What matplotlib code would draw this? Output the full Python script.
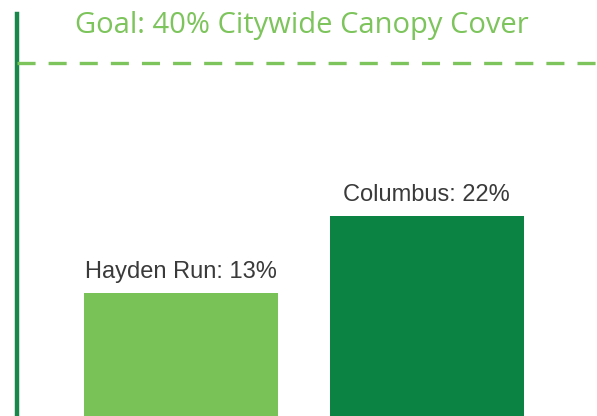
import matplotlib
matplotlib.use("Agg")
import matplotlib.pyplot as plt

# data
areas = ["Hayden Run", "Columbus"]
canopy = [13, 22]
goal = 40
goal_label = "Goal: 40% Citywide Canopy Cover"
bar_colors = ["#79c257", "#0b8443"]

light_green = "#7cc45b"
dark_green = "#17874a"

fig = plt.figure(figsize=(5.97, 4.16), dpi=100)
ax = fig.add_axes([0, 0, 1, 1])

# the original is not drawn to a strict scale, so pick limits that fit it best
ymin, ymax = -1.38, 47.33
ax.set_ylim(ymin, ymax)
ax.set_xlim(-0.737, 1.694)

x = list(range(len(areas)))
heights = [v - ymin for v in canopy]
ax.bar(x, heights, bottom=ymin, width=0.79, color=bar_colors, linewidth=0)

for xi, name, v in zip(x, areas, canopy):
    ax.annotate(f"{name}: {v}%", (xi, v), xytext=(0, 7.5), textcoords="offset points",
                ha="center", va="bottom", fontsize=17, color="#3a3a3a",
                family="Liberation Sans")

# goal line + left rule
x_left = -0.737 + 17 / 245.5
ax.axvline(x_left, ymin=0, ymax=1 - 14 / 416, color=dark_green, lw=3.2)
ax.plot([x_left, 1.694], [goal, goal], color=light_green, lw=2.4,
        dashes=(13 / 2.4, 9.4 / 2.4))

ax.text(302 / 597, 1 - 25 / 416, goal_label, transform=ax.transAxes,
        ha="center", va="center", fontsize=21, color=light_green, family="Open Sans")

ax.axis("off")
fig.savefig("out.png", dpi=100, facecolor="white")
